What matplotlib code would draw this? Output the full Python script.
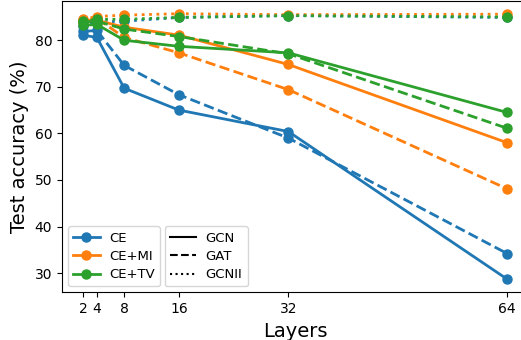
import matplotlib
matplotlib.use("Agg")
import matplotlib.pyplot as plt
from matplotlib.lines import Line2D

layers = [2, 4, 8, 16, 32, 64]

# CE
ce_gcn = [81.1, 80.6, 69.7, 65.0, 60.4, 28.7]
ce_gat = [81.9, 82.1, 74.6, 68.3, 59.0, 34.2]
ce_gcnii = [83.0, 83.9, 84.1, 84.9, 85.3, 84.9]
# CE+MI
mi_gcn = [84.3, 84.3, 82.8, 81.1, 74.8, 58.0]
mi_gat = [83.9, 84.7, 80.6, 77.3, 69.4, 48.1]
mi_gcnii = [84.5, 85.1, 85.4, 85.7, 85.5, 85.6]
# CE+TV
tv_gcn = [83.2, 83.4, 80.0, 78.7, 77.3, 64.5]
tv_gat = [83.9, 84.1, 82.4, 80.8, 77.1, 61.1]
tv_gcnii = [84.1, 84.5, 84.5, 84.9, 85.3, 85.0]

methods = ["CE", "CE+MI", "CE+TV"]
models = ["GCN", "GAT", "GCNII"]
results = {
    "CE": [ce_gcn, ce_gat, ce_gcnii],
    "CE+MI": [mi_gcn, mi_gat, mi_gcnii],
    "CE+TV": [tv_gcn, tv_gat, tv_gcnii],
}

colors = ["tab:blue", "tab:orange", "tab:green"]
styles = ["-", "--", ":"]

fig = plt.figure(figsize=(5.21, 3.40), dpi=100)
# axes runs a little past the right edge (the original was cropped there)
ax = fig.add_axes([0.119, 0.140, 0.895, 0.858])

for m, c in zip(methods, colors):
    for vals, ls in zip(results[m], styles):
        ax.plot(layers, vals, linestyle=ls, color=c, marker="o",
                markersize=6.5, linewidth=2)

ax.set_xlim(-1.1, 67.1)
ax.set_ylim(25.85, 88.5)
ax.set_xticks(layers)
ax.set_yticks([30, 40, 50, 60, 70, 80])
ax.tick_params(labelsize=10)
ax.set_xlabel("Layers", fontsize=14)
ax.set_ylabel("Test accuracy (%)", fontsize=14)

h1 = [Line2D([], [], color=c, marker="o", linewidth=2, markersize=6.5)
      for c in colors]
leg1 = ax.legend(h1, methods, loc="lower left", fontsize=9.5,
                 labelspacing=0.4, borderaxespad=0.45, handletextpad=0.7)
ax.add_artist(leg1)
h2 = [Line2D([], [], color="black", linestyle=ls, linewidth=1.5)
      for ls in styles]
ax.legend(h2, models, loc="lower left", bbox_to_anchor=(0.2075, 0.0),
          fontsize=9.5, labelspacing=0.4, borderaxespad=0.45,
          handletextpad=0.7)

plt.savefig("out.png", dpi=100)
